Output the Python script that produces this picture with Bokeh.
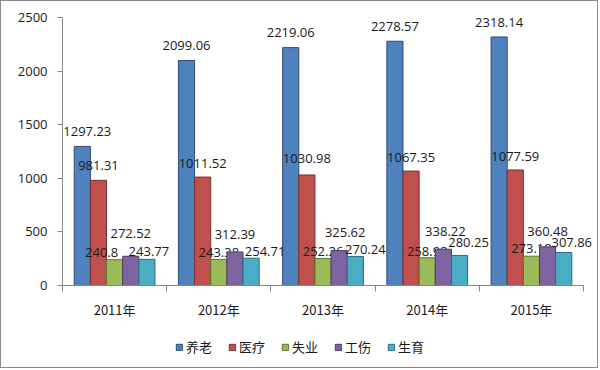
from bokeh.plotting import figure
from bokeh.models import (ColumnDataSource, Range1d, FixedTicker, Legend, LegendItem)
from bokeh.layouts import column
from bokeh.core.properties import value
from bokeh.embed import file_html
from bokeh.resources import INLINE

# ---- data ----
years = ["2011年", "2012年", "2013年", "2014年", "2015年"]
series_names = ["养老", "医疗", "失业", "工伤", "生育"]
yanglao = [1297.23, 2099.06, 2219.06, 2278.57, 2318.14]
yiliao = [981.31, 1011.52, 1030.98, 1067.35, 1077.59]
shiye = [240.8, 243.38, 252.26, 258.98, 273.18]
gongshang = [272.52, 312.39, 325.62, 338.22, 360.48]
shengyu = [243.77, 254.71, 270.24, 280.25, 307.86]
y_ticks = [0, 500, 1000, 1500, 2000, 2500]

series_values = [yanglao, yiliao, shiye, gongshang, shengyu]

# ---- styles ----
fills = ["#4F81BD", "#C0504D", "#9BBB59", "#8064A2", "#4BACC6"]
edges = ["#2E4D73", "#7A2E2C", "#5E7331", "#4B3A63", "#2B6C80"]
# label nudges (pixels): horizontal shift, and distance above bar top
label_dx = [[5, 0, 0, 0, 0], [0, 0, 0, 0, 0], [-13, 0, 0, 0, 0],
            [0, 0, 6, 2, 0], [2, 14, 10, 9, 8]]
label_dy = [[15, 14.5, 15, 14.5, 14], [15, 14, 16, 14, 13.5], [7, 7, 7, 6, 8],
            [23, 18, 18, 18, 15], [8, 7, 7, 13, 10]]

bar_w = 0.155
FONT = "Open Sans"
CJK = "Noto Sans CJK SC"
AXIS_GRAY = "#868686"
TXT = "#1a1a1a"
W = 596

p = figure(width=W, height=329, output_backend="svg", toolbar_location=None,
           x_range=Range1d(0, 5.134), y_range=Range1d(0, 2500),
           min_border_left=61, min_border_right=0, min_border_top=16,
           min_border_bottom=45)
p.outline_line_color = None
p.xgrid.visible = False
p.ygrid.visible = False
p.background_fill_color = "white"
p.border_fill_color = "white"

# legend strip below the chart; its proxy renderers are hidden, only the
# legend swatches are drawn from them
lg = figure(width=W, height=37, output_backend="svg", toolbar_location=None,
            x_range=Range1d(0, 5.134), y_range=Range1d(-2, -1),
            min_border_left=0, min_border_right=0, min_border_top=0,
            min_border_bottom=0)
lg.axis.visible = False
lg.grid.visible = False
lg.outline_line_color = None
lg.background_fill_color = "white"
lg.border_fill_color = "white"

items = []
for j, (name, vals) in enumerate(zip(series_names, series_values)):
    xs = [i + 0.5 + (j - 2) * bar_w for i in range(len(years))]
    src = ColumnDataSource(dict(x=xs, top=vals,
                                label=[f"{v:g}" for v in vals],
                                dx=label_dx[j],
                                dy=[-d for d in label_dy[j]]))
    p.vbar(x="x", top="top", width=bar_w, bottom=0, source=src,
           fill_color=fills[j], line_color=edges[j], line_width=1)
    p.text(x="x", y="top", text="label", source=src, x_offset="dx",
           y_offset="dy", text_align="center", text_baseline="middle",
           text_font=value(FONT), text_font_size="13px", text_color=TXT)
    proxy = lg.vbar(x="x", top="top", width=bar_w, bottom=0, source=src,
                    fill_color=fills[j], line_color=edges[j], line_width=1)
    proxy.visible = False
    items.append(LegendItem(label=name, renderers=[proxy]))

# y axis
ya = p.yaxis[0]
ya.ticker = FixedTicker(ticks=y_ticks)
ya.axis_line_color = AXIS_GRAY
ya.major_tick_line_color = AXIS_GRAY
ya.major_tick_out = 5
ya.major_tick_in = 0
ya.minor_tick_line_color = None
ya.major_label_standoff = 10
ya.major_label_text_font = FONT
ya.major_label_text_font_size = "13px"
ya.major_label_text_color = TXT

# x axis: labels at category centres, ticks at category boundaries
xa = p.xaxis[0]
centres = [i + 0.5 for i in range(len(years))]
xa.ticker = FixedTicker(ticks=centres, minor_ticks=list(range(len(years) + 1)))
xa.major_label_overrides = {c: y for c, y in zip(centres, years)}
xa.bounds = (0, len(years))
xa.axis_line_color = AXIS_GRAY
xa.major_tick_line_color = None
xa.major_tick_out = 0
xa.major_tick_in = 0
xa.minor_tick_line_color = AXIS_GRAY
xa.minor_tick_out = 6
xa.minor_tick_in = 0
xa.major_label_standoff = 8
xa.major_label_text_font = CJK
xa.major_label_text_font_size = "13px"
xa.major_label_text_color = TXT

legend = Legend(items=items, orientation="horizontal",
                location=(113, 11), glyph_width=8, glyph_height=8,
                label_standoff=3, spacing=16, padding=0, margin=0,
                border_line_color=None, background_fill_alpha=0,
                label_text_font=CJK, label_text_font_size="13px",
                label_text_color=TXT, label_height=16)
lg.add_layout(legend, "center")

layout = column(p, lg, spacing=0, styles={"border": "1px solid #8a8a8a"})

open("out.html", "w").write(file_html(layout, INLINE))
